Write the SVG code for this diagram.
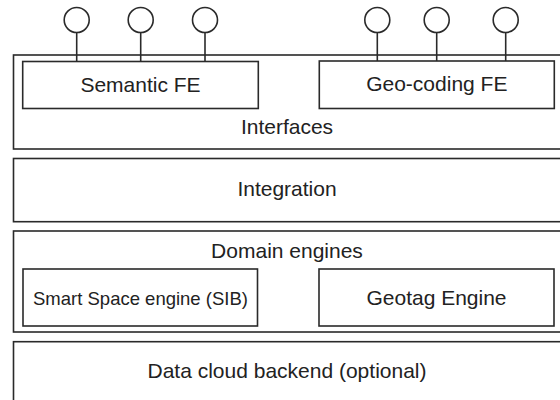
<svg xmlns="http://www.w3.org/2000/svg" width="560" height="400" viewBox="0 0 560 400">
  <style>
    rect { fill: #ffffff; stroke: #2a2a2a; stroke-width: 1.6; }
    .port circle { fill: #ffffff; stroke: #2a2a2a; stroke-width: 1.6; }
    .port line { stroke: #2a2a2a; stroke-width: 1.6; }
    text { font-family: "Liberation Sans", Arial, sans-serif; fill: #222222; text-anchor: middle; }
    .big { font-size: 21px; }
    .small { font-size: 18.5px; }
  </style>
  <rect width="560" height="400" style="fill:#ffffff;stroke:none"/>

  <!-- Interfaces layer -->
  <g id="interfaces">
    <rect x="13.5" y="55" width="550" height="94"/>
    <text class="big" x="287" y="134">Interfaces</text>
  </g>
  <g id="semantic-fe">
    <rect x="22.7" y="61.5" width="235.6" height="47"/>
    <text class="big" x="140.5" y="92">Semantic FE</text>
  </g>
  <g id="geocoding-fe">
    <rect x="319.3" y="61" width="235" height="47.5"/>
    <text class="big" x="436.8" y="91">Geo-coding FE</text>
  </g>

  <!-- Interface ports (lollipops) -->
  <g id="ports" class="port">
    <line x1="76.7" y1="32.5" x2="76.7" y2="61.5"/>
    <line x1="140.7" y1="32.5" x2="140.7" y2="61.5"/>
    <line x1="205" y1="32.5" x2="205" y2="61.5"/>
    <line x1="377.3" y1="32.5" x2="377.3" y2="61"/>
    <line x1="436.7" y1="32.5" x2="436.7" y2="61"/>
    <line x1="505.7" y1="32.5" x2="505.7" y2="61"/>
    <circle cx="76.7" cy="20" r="12.5"/>
    <circle cx="140.7" cy="20" r="12.5"/>
    <circle cx="205" cy="20" r="12.5"/>
    <circle cx="377.3" cy="20" r="12.5"/>
    <circle cx="436.7" cy="20" r="12.5"/>
    <circle cx="505.7" cy="20" r="12.5"/>
  </g>

  <!-- Integration layer -->
  <g id="integration">
    <rect x="13.5" y="158.5" width="550" height="63.2"/>
    <text class="big" x="287" y="196">Integration</text>
  </g>

  <!-- Domain engines layer -->
  <g id="domain-engines">
    <rect x="13.5" y="231" width="550" height="101"/>
    <text class="big" x="287" y="258">Domain engines</text>
  </g>
  <g id="smart-space-engine">
    <rect x="23" y="269" width="234.5" height="57"/>
    <text class="small" x="140.5" y="305">Smart Space engine (SIB)</text>
  </g>
  <g id="geotag-engine">
    <rect x="319" y="269" width="235" height="57"/>
    <text class="big" x="436.5" y="305">Geotag Engine</text>
  </g>

  <!-- Data cloud backend layer -->
  <g id="data-cloud-backend">
    <rect x="13.5" y="341.7" width="550" height="70"/>
    <text class="big" x="287" y="377.5">Data cloud backend (optional)</text>
  </g>
</svg>
